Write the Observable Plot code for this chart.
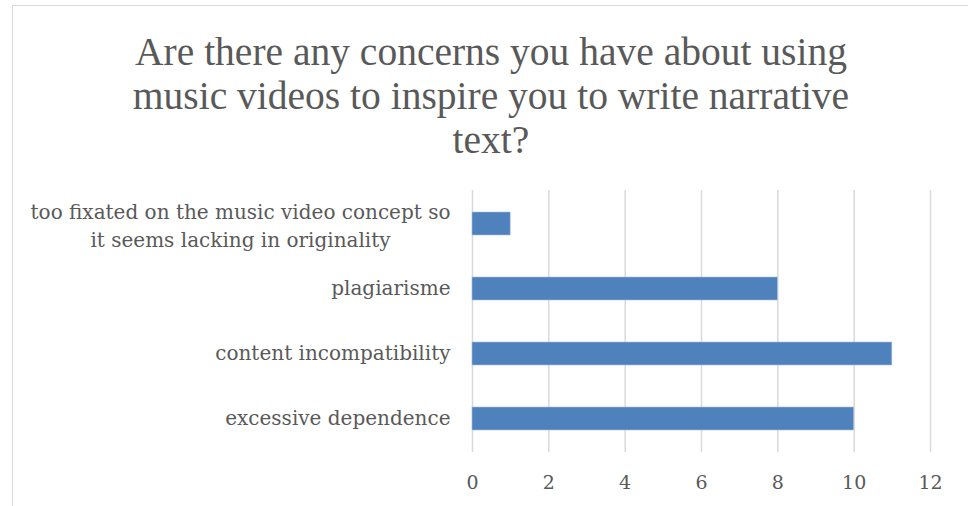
<!DOCTYPE html>
<html>
<head>
<meta charset="utf-8">
<script src="https://cdn.jsdelivr.net/npm/d3@7"></script>
<script src="https://cdn.jsdelivr.net/npm/@observablehq/plot@0.6"></script>
<style>
  html, body { margin: 0; padding: 0; background: #fff; }
  #wrap { position: relative; width: 968px; height: 506px; overflow: hidden; font-family: "Liberation Serif", serif; }
  #frame { position: absolute; left: 12px; top: 5px; width: 1000px; height: 600px; border: 1.5px solid #d9d9d9; box-sizing: border-box; }
  #title { position: absolute; left: 12px; top: 30px; width: 958px; text-align: center; font-size: 39.5px; line-height: 44px; color: #595959; }
  #chart { position: absolute; left: 0; top: 170px; }
</style>
</head>
<body>
<div id="wrap">
  <div id="frame"></div>
  <div id="title">Are there any concerns you have about using<br>music videos to inspire you to write narrative<br>text?</div>
  <div id="chart"></div>
</div>
<script>
const categories = [
  "too fixated on the music video concept so\nit seems lacking in originality",
  "plagiarisme",
  "content incompatibility",
  "excessive dependence"
];
const values = [1, 8, 11, 10];
const xTicks = [0, 2, 4, 6, 8, 10, 12];

const data = categories.map((c, i) => ({category: c, value: values[i]}));
const labelFont = '"DejaVu Serif", serif';

const chart = Plot.plot({
  width: 968,
  height: 336,
  marginTop: 20,
  marginBottom: 54,
  marginLeft: 472,
  marginRight: 38,
  style: {fontFamily: labelFont, fontSize: "20px", color: "#595959", background: "transparent"},
  x: {domain: [0, 12], ticks: xTicks},
  y: {domain: categories, paddingInner: 0.65, paddingOuter: 0.325, axis: null},
  marks: [
    Plot.gridX(xTicks, {stroke: "#d9d9d9", strokeOpacity: 1, strokeWidth: 1.5}),
    Plot.axisX(xTicks, {tickSize: 0, tickPadding: 23, fontSize: 19, fill: "#595959", label: null}),
    Plot.barX(data, {x: "value", y: "category", fill: "#4f81bd", stroke: "#a7c0de", strokeWidth: 0.6}),
    Plot.text(data.filter(d => d.category.includes("\n")), {
      x: 0, y: "category", text: "category", textAnchor: "middle", dx: -232,
      fontSize: 20, fill: "#595959", lineHeight: 1.38
    }),
    Plot.text(data.filter(d => !d.category.includes("\n")), {
      x: 0, y: "category", text: "category", textAnchor: "end", dx: -22,
      fontSize: 20, fill: "#595959"
    })
  ]
});
document.getElementById("chart").appendChild(chart);
</script>
</body>
</html>
